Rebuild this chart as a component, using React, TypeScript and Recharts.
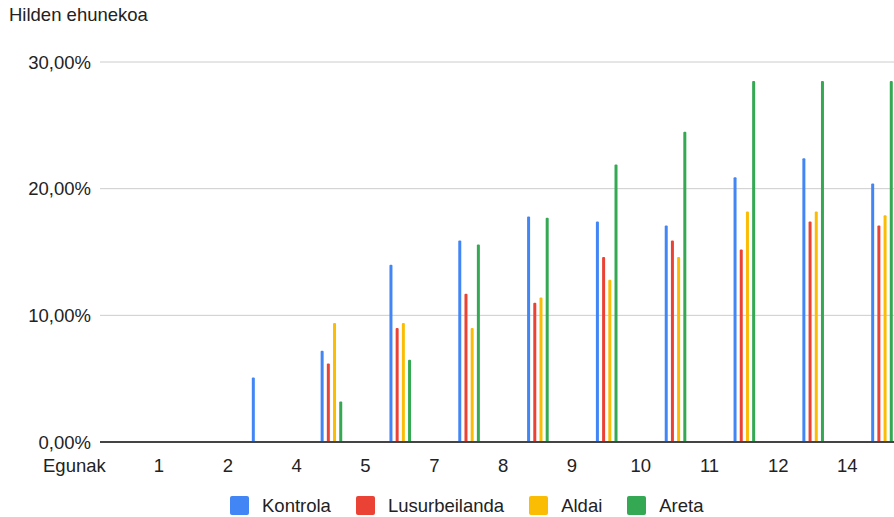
import { BarChart, Bar, XAxis, YAxis, CartesianGrid } from 'recharts';

const days = ['1', '2', '4', '5', '7', '8', '9', '10', '11', '12', '14'];
const kontrola = [0, 5.1, 7.2, 14.0, 15.9, 17.8, 17.4, 17.1, 20.9, 22.4, 20.4];
const lusurbeilanda = [0, 0, 6.2, 9.0, 11.7, 11.0, 14.6, 15.9, 15.2, 17.4, 17.1];
const aldai = [0, 0, 9.4, 9.4, 9.0, 11.4, 12.8, 14.6, 18.2, 18.2, 17.9];
const areta = [0, 0, 3.2, 6.5, 15.6, 17.7, 21.9, 24.5, 28.5, 28.5, 28.5];
const yTicks = [0, 10, 20, 30];

const series = [
  { key: 'kontrola', name: 'Kontrola', color: '#4285F4' },
  { key: 'lusurbeilanda', name: 'Lusurbeilanda', color: '#EA4335' },
  { key: 'aldai', name: 'Aldai', color: '#FBBC04' },
  { key: 'areta', name: 'Areta', color: '#34A853' },
];

const data = days.map((d, i) => ({
  day: d,
  kontrola: kontrola[i],
  lusurbeilanda: lusurbeilanda[i],
  aldai: aldai[i],
  areta: areta[i],
}));

const FONT = "'Liberation Sans', Arial, sans-serif";
const TEXT = '#222';

// labels in the original sit on the left edge of each band
function DayTick(props: any) {
  const { x, y, payload } = props;
  return (
    <text x={x - 34.4} y={y} dy="0.71em" textAnchor="middle" fill={TEXT} fontSize={18.5} fontFamily={FONT}>
      {payload.value}
    </text>
  );
}

const fmt = (v: number) => v.toFixed(2).replace('.', ',') + '%';

export default function App() {
  return (
    <div style={{ position: 'fixed', left: 0, top: 0, width: 894, height: 517, overflow: 'hidden', background: '#fff', fontFamily: FONT, color: TEXT }}>
      <div style={{ position: 'absolute', left: 9, top: 6, fontSize: 18.5, lineHeight: '18.5px' }}>Hilden ehunekoa</div>
      <BarChart
        width={920}
        height={517}
        data={data}
        margin={{ top: 62, right: 4, left: 0, bottom: 0 }}
        barSize={3}
        barGap={3.2}
      >
        <CartesianGrid vertical={false} stroke="#ccc" />
        <XAxis
          dataKey="day"
          height={75}
          padding={{ left: 59, right: 0 }}
          tickSize={0}
          tickMargin={17}
          tick={<DayTick />}
          axisLine={{ stroke: '#444', strokeWidth: 2 }}
          interval={0}
        />
        <YAxis
          width={100}
          domain={[0, 30]}
          ticks={yTicks}
          tickFormatter={fmt}
          tickSize={0}
          tickMargin={9}
          axisLine={false}
          tick={{ fill: TEXT, fontSize: 18.5, fontFamily: FONT }}
        />
        {series.map((s) => (
          <Bar key={s.key} dataKey={s.key} name={s.name} fill={s.color} radius={[1, 1, 0, 0]} isAnimationActive={false} />
        ))}
      </BarChart>
      <div style={{ position: 'absolute', left: 43, top: 457, fontSize: 18.5, lineHeight: '18.5px' }}>Egunak</div>
      <div style={{ position: 'absolute', left: 230, top: 496, height: 19, display: 'flex', alignItems: 'center', fontSize: 18.5 }}>
        {series.map((s, i) => (
          <div key={s.key} style={{ display: 'flex', alignItems: 'center', marginLeft: i === 0 ? 0 : 25 }}>
            <div style={{ width: 19, height: 19, borderRadius: 2, background: s.color, marginRight: 13 }} />
            <span>{s.name}</span>
          </div>
        ))}
      </div>
    </div>
  );
}
